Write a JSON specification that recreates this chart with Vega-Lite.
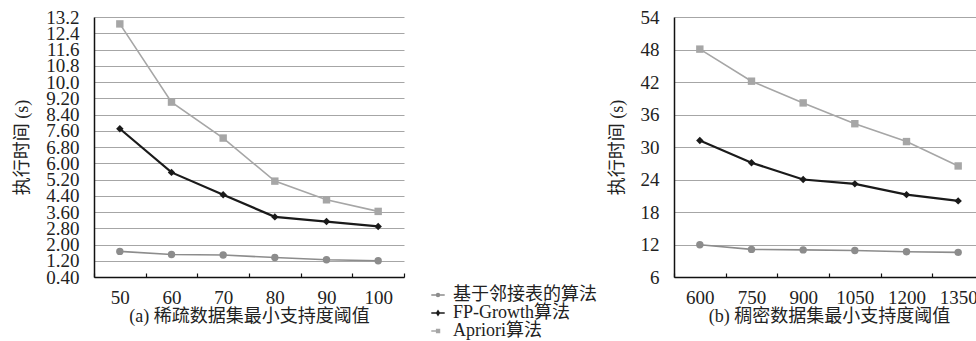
{
  "$schema": "https://vega.github.io/schema/vega-lite/v6.json",
  "autosize": {"type": "pad"},
  "padding": {"left": 13, "top": 8, "right": 0, "bottom": 0},
  "background": "white",
  "spacing": 270,
  "bounds": "flush",
  "config": {
    "font": "Liberation Serif, Noto Sans CJK SC",
    "view": {"stroke": null},
    "axis": {
      "labelFont": "Liberation Serif, Noto Sans CJK SC",
      "titleFont": "Liberation Serif, Noto Sans CJK SC",
      "labelColor": "#222",
      "titleColor": "#222",
      "labelFontSize": 19,
      "titleFontSize": 18,
      "titleFontWeight": "normal",
      "domainColor": "#111",
      "domainWidth": 1.5,
      "tickColor": "#111",
      "tickWidth": 1.2,
      "gridColor": "#a6a6a6",
      "gridWidth": 1,
      "labelOverlap": false
    }
  },
  "datasets": {
    "runs": [
      {"panel": "a", "thr": 50, "alg": "基于邻接表的算法", "time": 1.66},
      {"panel": "a", "thr": 60, "alg": "基于邻接表的算法", "time": 1.51},
      {"panel": "a", "thr": 70, "alg": "基于邻接表的算法", "time": 1.48},
      {"panel": "a", "thr": 80, "alg": "基于邻接表的算法", "time": 1.36},
      {"panel": "a", "thr": 90, "alg": "基于邻接表的算法", "time": 1.25},
      {"panel": "a", "thr": 100, "alg": "基于邻接表的算法", "time": 1.2},
      {"panel": "a", "thr": 50, "alg": "FP-Growth算法", "time": 7.7},
      {"panel": "a", "thr": 60, "alg": "FP-Growth算法", "time": 5.55},
      {"panel": "a", "thr": 70, "alg": "FP-Growth算法", "time": 4.45},
      {"panel": "a", "thr": 80, "alg": "FP-Growth算法", "time": 3.36},
      {"panel": "a", "thr": 90, "alg": "FP-Growth算法", "time": 3.13},
      {"panel": "a", "thr": 100, "alg": "FP-Growth算法", "time": 2.89},
      {"panel": "a", "thr": 50, "alg": "Apriori算法", "time": 12.86},
      {"panel": "a", "thr": 60, "alg": "Apriori算法", "time": 9.01},
      {"panel": "a", "thr": 70, "alg": "Apriori算法", "time": 7.24},
      {"panel": "a", "thr": 80, "alg": "Apriori算法", "time": 5.12},
      {"panel": "a", "thr": 90, "alg": "Apriori算法", "time": 4.2},
      {"panel": "a", "thr": 100, "alg": "Apriori算法", "time": 3.63},
      {"panel": "b", "thr": 600, "alg": "基于邻接表的算法", "time": 11.96},
      {"panel": "b", "thr": 750, "alg": "基于邻接表的算法", "time": 11.1},
      {"panel": "b", "thr": 900, "alg": "基于邻接表的算法", "time": 11.0},
      {"panel": "b", "thr": 1050, "alg": "基于邻接表的算法", "time": 10.9},
      {"panel": "b", "thr": 1200, "alg": "基于邻接表的算法", "time": 10.67},
      {"panel": "b", "thr": 1350, "alg": "基于邻接表的算法", "time": 10.55},
      {"panel": "b", "thr": 600, "alg": "FP-Growth算法", "time": 31.2},
      {"panel": "b", "thr": 750, "alg": "FP-Growth算法", "time": 27.1},
      {"panel": "b", "thr": 900, "alg": "FP-Growth算法", "time": 24.0},
      {"panel": "b", "thr": 1050, "alg": "FP-Growth算法", "time": 23.2},
      {"panel": "b", "thr": 1200, "alg": "FP-Growth算法", "time": 21.2},
      {"panel": "b", "thr": 1350, "alg": "FP-Growth算法", "time": 20.05},
      {"panel": "b", "thr": 600, "alg": "Apriori算法", "time": 48.07},
      {"panel": "b", "thr": 750, "alg": "Apriori算法", "time": 42.15},
      {"panel": "b", "thr": 900, "alg": "Apriori算法", "time": 38.14},
      {"panel": "b", "thr": 1050, "alg": "Apriori算法", "time": 34.3},
      {"panel": "b", "thr": 1200, "alg": "Apriori算法", "time": 31.0},
      {"panel": "b", "thr": 1350, "alg": "Apriori算法", "time": 26.5}
    ]
  },
  "resolve": {"legend": {"color": "independent"}},
  "hconcat": [
    {
      "width": 310,
      "height": 260,
      "data": {"name": "runs"},
      "transform": [{"filter": "datum.panel == 'a'"}],
      "encoding": {
        "x": {
          "field": "thr", "type": "ordinal",
          "scale": {"paddingInner": 0, "paddingOuter": 0},
          "axis": {"title": "(a) 稀疏数据集最小支持度阈值", "labelAngle": 0, "tickBand": "extent", "tickSize": -4, "labelPadding": 15, "titlePadding": 0, "grid": false}
        },
        "y": {
          "field": "time", "type": "quantitative",
          "scale": {"domain": [0.4, 13.2], "nice": false, "zero": false},
          "axis": {
            "title": "执行时间 (s)",
            "values": [0.4, 1.2, 2.0, 2.8, 3.6, 4.4, 5.2, 6.0, 6.8, 7.6, 8.4, 9.2, 10.0, 10.8, 11.6, 12.4, 13.2],
            "labelExpr": "datum.value < 9.9 ? format(datum.value, '.2f') : format(datum.value, '.1f')",
            "ticks": false, "labelPadding": 15, "titlePadding": 14, "grid": true
          }
        },
        "color": {
          "field": "alg", "type": "nominal",
          "scale": {"domain": ["基于邻接表的算法", "FP-Growth算法", "Apriori算法"], "range": ["#8c8c8c", "#1a1a1a", "#a6a6a6"]},
          "legend": {
            "title": null, "orient": "none", "legendX": 335, "legendY": 269,
            "labelFontSize": 18, "labelFont": "Liberation Serif, Noto Sans CJK SC", "labelColor": "#222",
            "rowPadding": -2, "symbolSize": 180, "labelOffset": 6,
            "encode": {
              "symbols": {
                "update": {
                  "shape": {"signal": "datum.value == 'FP-Growth算法' ? 'M-1,0L1,0M0,-0.32L0.2,0L0,0.32L-0.2,0Z' : (datum.value == 'Apriori算法' ? 'M-1,0L-0.2,0M-0.2,-0.22L0.22,-0.22L0.22,0.22L-0.2,0.22Z' : 'M-1,0L1,0M0.22,0A0.22,0.22,0,1,1,-0.22,0A0.22,0.22,0,1,1,0.22,0Z')"},
                  "fill": {"signal": "scale('color', datum.value)"},
                  "stroke": {"signal": "scale('color', datum.value)"},
                  "strokeWidth": {"value": 1.5},
                  "opacity": {"value": 1}
                }
              }
            }
          }
        }
      },
      "layer": [
        {"mark": {"type": "line"}, "encoding": {"strokeWidth": {"condition": {"test": "datum.alg == 'FP-Growth算法'", "value": 2.2}, "value": 1.6}}},
        {"mark": {"type": "point", "filled": true, "opacity": 1, "size": 55},
         "encoding": {"shape": {"condition": [{"test": "datum.alg == 'FP-Growth算法'", "value": "diamond"}, {"test": "datum.alg == 'Apriori算法'", "value": "square"}], "value": "circle"}}}
      ]
    },
    {
      "width": 310,
      "height": 260,
      "data": {"name": "runs"},
      "transform": [{"filter": "datum.panel == 'b'"}],
      "encoding": {
        "x": {
          "field": "thr", "type": "ordinal",
          "scale": {"paddingInner": 0, "paddingOuter": 0},
          "axis": {"title": "(b) 稠密数据集最小支持度阈值", "labelAngle": 0, "tickBand": "extent", "tickSize": -4, "labelPadding": 15, "titlePadding": 0, "grid": false}
        },
        "y": {
          "field": "time", "type": "quantitative",
          "scale": {"domain": [6, 54], "nice": false, "zero": false},
          "axis": {
            "title": "执行时间 (s)",
            "values": [6, 12, 18, 24, 30, 36, 42, 48, 54],
            "ticks": false, "labelPadding": 15, "titlePadding": 14, "grid": true
          }
        },
        "color": {
          "field": "alg", "type": "nominal",
          "scale": {"domain": ["基于邻接表的算法", "FP-Growth算法", "Apriori算法"], "range": ["#8c8c8c", "#1a1a1a", "#a6a6a6"]},
          "legend": null
        }
      },
      "layer": [
        {"mark": {"type": "line"}, "encoding": {"strokeWidth": {"condition": {"test": "datum.alg == 'FP-Growth算法'", "value": 2.2}, "value": 1.6}}},
        {"mark": {"type": "point", "filled": true, "opacity": 1, "size": 55},
         "encoding": {"shape": {"condition": [{"test": "datum.alg == 'FP-Growth算法'", "value": "diamond"}, {"test": "datum.alg == 'Apriori算法'", "value": "square"}], "value": "circle"}}}
      ]
    }
  ]
}
